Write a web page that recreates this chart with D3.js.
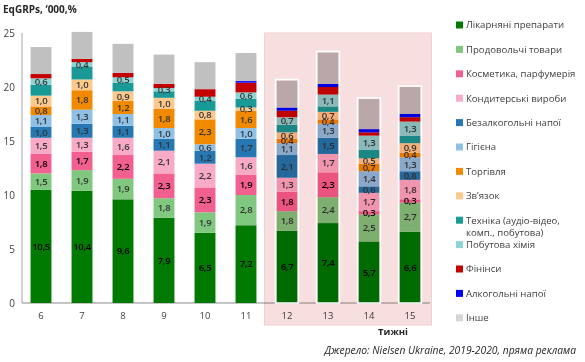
<!DOCTYPE html>
<html>
<head>
<meta charset="utf-8">
<script src="https://cdn.jsdelivr.net/npm/d3@7"></script>
<style>
  body { margin: 0; background: #fff; }
  svg { display: block; font-family: "Open Sans", sans-serif; }
</style>
</head>
<body>
<svg width="585" height="362"></svg>
<script>
// ---- Дані
const weeks = ['6', '7', '8', '9', '10', '11', '12', '13', '14', '15'];
const yTicks = [0, 5, 10, 15, 20, 25];

const likarniani   = [10.5, 10.4, 9.6, 7.9, 6.5, 7.2, 6.7, 7.4, 5.7, 6.6];
const prodovolchi  = [1.5, 1.9, 1.9, 1.8, 1.9, 2.8, 1.8, 2.4, 2.5, 2.7];
const kosmetyka    = [1.8, 1.7, 2.2, 2.3, 2.3, 1.9, 1.8, 2.3, 0.3, 0.3];
const kondyterski  = [1.5, 1.3, 1.6, 2.1, 2.2, 1.6, 1.3, 1.7, 1.7, 1.8];
const bezalkogolni = [1.0, 1.3, 1.1, 1.1, 1.2, 1.7, 2.1, 1.5, 0.6, 0.8];
const gigiena      = [1.1, 1.3, 1.1, 1.0, 0.6, 1.0, 1.1, 1.3, 1.4, 1.3];
const torgivlia    = [0.8, 1.8, 1.2, 1.8, 2.3, 1.6, 0.4, 0.4, 0.7, 0.4];
const zviazok      = [1.0, 1.0, 0.9, 1.0, 0.8, 0.3, 0.6, 0.7, 0.5, 0.9];
const tekhnika     = [1.0, 1.2, 0.8, 0.6, 0.9, 0.8, 0.7, 0.5, 0.8, 0.7];
const pobutova     = [0.6, 0.4, 0.5, 0.3, 0.4, 0.6, 0.7, 1.1, 1.3, 1.3];
const finansy      = [0.4, 0.3, 0.4, 0.4, 0.7, 0.9, 0.6, 0.7, 0.3, 0.4];
const alkogolni    = [0, 0, 0, 0, 0, 0.15, 0.3, 0.3, 0.3, 0.3];
const inshe        = [2.5, 2.5, 2.7, 2.7, 2.5, 2.6, 2.5, 2.9, 2.8, 2.5];

const highlightWeeks = ['12', '13', '14', '15'];

const series = [
    { name: ['Лікарняні препарати'], values: likarniani, color: '#007a00', label: true },
    { name: ['Продовольчі товари'], values: prodovolchi, color: '#80c880', label: true },
    { name: ['Косметика, парфумерія'], values: kosmetyka, color: '#f2608f', label: true },
    { name: ['Кондитерські вироби'], values: kondyterski, color: '#f9aac6', label: true },
    { name: ['Безалкогольні напої'], values: bezalkogolni, color: '#2677b2', label: true },
    { name: ['Гігієна'], values: gigiena, color: '#8fc0e6', label: true },
    { name: ['Торгівля'], values: torgivlia, color: '#f28a00', label: true },
    { name: ['Зв\u2019язок'], values: zviazok, color: '#fcc88c', label: true },
    { name: ['Техніка (аудіо-відео,', 'комп., побутова)'], values: tekhnika, color: '#1a9a96', label: false },
    { name: ['Побутова хімія'], values: pobutova, color: '#8ed4d4', label: true },
    { name: ['Фінінси'], values: finansy, color: '#c40000', label: false },
    { name: ['Алкогольні напої'], values: alkogolni, color: '#0000ff', label: false },
    { name: ['Інше'], values: inshe, color: '#c0c0c0', label: false }
];

// ---- Розмітка
const svg = d3.select('svg');
const x = d3.scaleBand().domain(weeks).range([20.5, 430.5]).paddingInner(0.49).paddingOuter(0.245);
const y = d3.scaleLinear().domain([0, 25]).range([303, 33]);

// stacked segments
const segs = [];
weeks.forEach((w, i) => {
    let base = 0;
    series.forEach(s => {
        const v = s.values[i];
        segs.push({ week: w, y0: base, y1: base + v, v, s });
        base += v;
    });
});
const totals = weeks.map((w, i) => d3.sum(series, s => s.values[i]));

// Axes
svg.append('line')
    .attr('x1', 22).attr('x2', 22).attr('y1', y(25)).attr('y2', y(0))
    .attr('stroke', '#a6a6a6');

const yAxis = svg.append('g')
    .attr('transform', 'translate(15,0)')
    .call(d3.axisLeft(y).tickValues(yTicks).tickSize(0).tickPadding(0));
yAxis.select('.domain').remove();
yAxis.selectAll('text').attr('font-size', 10).attr('fill', '#404040').attr('font-family', '"Open Sans", sans-serif');

const xAxis = svg.append('g')
    .attr('transform', `translate(0,${y(0)})`)
    .call(d3.axisBottom(x).tickSize(0).tickPadding(9));
xAxis.select('.domain').attr('stroke', '#8c8c8c').attr('d', `M22,0H430`);
xAxis.selectAll('text').attr('font-size', 9.5).attr('fill', '#404040').attr('font-family', '"Open Sans", sans-serif');

// Bars
svg.append('g').selectAll('rect')
    .data(segs.filter(d => d.v > 0))
    .join('rect')
    .attr('x', d => x(d.week))
    .attr('width', x.bandwidth())
    .attr('y', d => y(d.y1))
    .attr('height', d => y(d.y0) - y(d.y1))
    .attr('fill', d => d.s.color);

// Value labels
svg.append('g').selectAll('text')
    .data(segs.filter(d => d.s.label))
    .join('text')
    .attr('x', d => x(d.week) + x.bandwidth() / 2)
    .attr('y', d => y((d.y0 + d.y1) / 2))
    .attr('dy', '0.35em')
    .attr('text-anchor', 'middle')
    .attr('font-size', 9.5)
    .attr('font-weight', 600)
    .attr('fill', d => d.s.color === '#007a00' || d.s.color === '#f2608f' ? '#000' : '#333')
    .attr('letter-spacing', -0.3)
    .text(d => d3.format('.1f')(d.v).replace('.', ','));

// Highlight region (multiply overlay)
const hx0 = x(highlightWeeks[0]) - 12;
const hx1 = x(highlightWeeks[highlightWeeks.length - 1]) + x.bandwidth() + 11;
svg.append('rect')
    .attr('x', hx0).attr('y', 33)
    .attr('width', hx1 - hx0).attr('height', 292)
    .attr('fill', '#f7dfe0')
    .attr('stroke', '#f0cfd1')
    .style('mix-blend-mode', 'multiply');

// white outline round highlighted bars
svg.append('g').selectAll('rect')
    .data(highlightWeeks)
    .join('rect')
    .attr('x', w => x(w) - 1)
    .attr('width', x.bandwidth() + 2)
    .attr('y', w => y(totals[weeks.indexOf(w)]) - 1)
    .attr('height', w => y(0) - y(totals[weeks.indexOf(w)]) + 1)
    .attr('fill', 'none')
    .attr('stroke', '#fff')
    .attr('stroke-width', 1.5);

// Titles
svg.append('text')
    .attr('x', 3).attr('y', 13)
    .attr('font-size', 10).attr('font-weight', 700).attr('fill', '#262626')
    .text('EqGRPs, \u2018000,%');

svg.append('text')
    .attr('x', 393).attr('y', 335)
    .attr('text-anchor', 'middle')
    .attr('font-size', 9.5).attr('font-weight', 700).attr('fill', '#262626')
    .text('Тижні');

svg.append('text')
    .attr('x', 576).attr('y', 354)
    .attr('text-anchor', 'end')
    .attr('font-size', 10.3).attr('font-style', 'italic').attr('fill', '#262626')
    .text('Джерело: Nielsen Ukraine, 2019-2020, пряма реклама');

// Legend
const legend = svg.append('g').attr('transform', 'translate(456,25)');
const item = legend.selectAll('g')
    .data(series)
    .join('g')
    .attr('transform', (d, i) => `translate(0,${i * 24.4})`);
item.append('rect')
    .attr('x', 0).attr('y', -3.5).attr('width', 7).attr('height', 7)
    .attr('fill', d => d.name[0] === 'Інше' ? '#d6d6d6' : d.color);
item.append('text')
    .attr('x', 10)
    .attr('font-size', 9.6)
    .attr('fill', '#404040')
    .selectAll('tspan')
    .data(d => d.name)
    .join('tspan')
    .attr('x', 10)
    .attr('y', (d, i) => i * 12.6)
    .attr('dy', '0.35em')
    .text(d => d);
</script>
</body>
</html>
